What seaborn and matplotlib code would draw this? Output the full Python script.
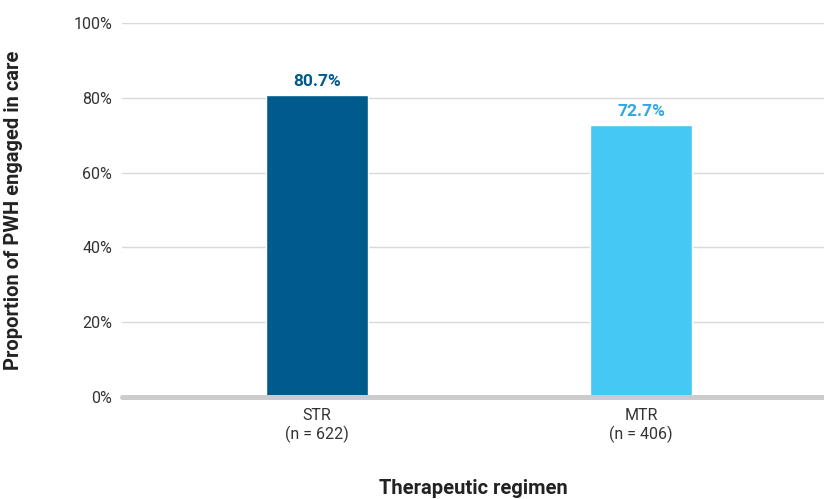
import pandas as pd
import numpy as np
import seaborn as sns
import matplotlib.pyplot as plt

categories = ['STR\n(n = 622)', 'MTR\n(n = 406)']
values = [80.7, 72.7]
bar_colors = ['#005a8c', '#46c8f5']
label_colors = ['#005a8c', '#2fa8e0']
yticks = [0, 20, 40, 60, 80, 100]

df = pd.DataFrame({'regimen': categories, 'pct': values})

sns.set_style('white')
plt.rcParams['font.family'] = ['Roboto', 'DejaVu Sans']

fig = plt.figure(figsize=(8.24, 4.99), dpi=100)
ax = fig.add_axes([122 / 824, 1 - 397 / 499, 702 / 824, 374 / 499])

sns.barplot(data=df, x='regimen', y='pct', hue='regimen', palette=bar_colors,
            width=0.315, legend=False, ax=ax, zorder=3, saturation=1)

for i, v in enumerate(values):
    ax.text(i, v + 1.6, f'{v:.1f}%', ha='center', va='bottom', fontsize=12.5,
            fontweight='bold', color=label_colors[i])

ax.set_ylim(0, 100)
ax.set_xlim(-0.602, 1.565)
ax.set_yticks(yticks)
ax.set_yticklabels([f'{t}%' for t in yticks], color='#333333', fontsize=11.5)
ax.tick_params(axis='x', colors='#333333', labelsize=11.5, length=0, pad=8)
ax.tick_params(axis='y', length=0, pad=7)
for t in yticks[1:]:
    ax.axhline(t, color='#d9d9d9', lw=1, zorder=1)
ax.axhline(0, color='#cccccc', lw=3.6, zorder=4, clip_on=False)
for s in ax.spines.values():
    s.set_visible(False)

ax.set_xlabel('Therapeutic regimen', fontsize=14.5, fontweight='bold', color='#222222', labelpad=26)
ax.set_ylabel('Proportion of PWH engaged in care', fontsize=14.5, fontweight='bold',
              color='#222222', labelpad=36)

plt.savefig('out.png', dpi=100)
